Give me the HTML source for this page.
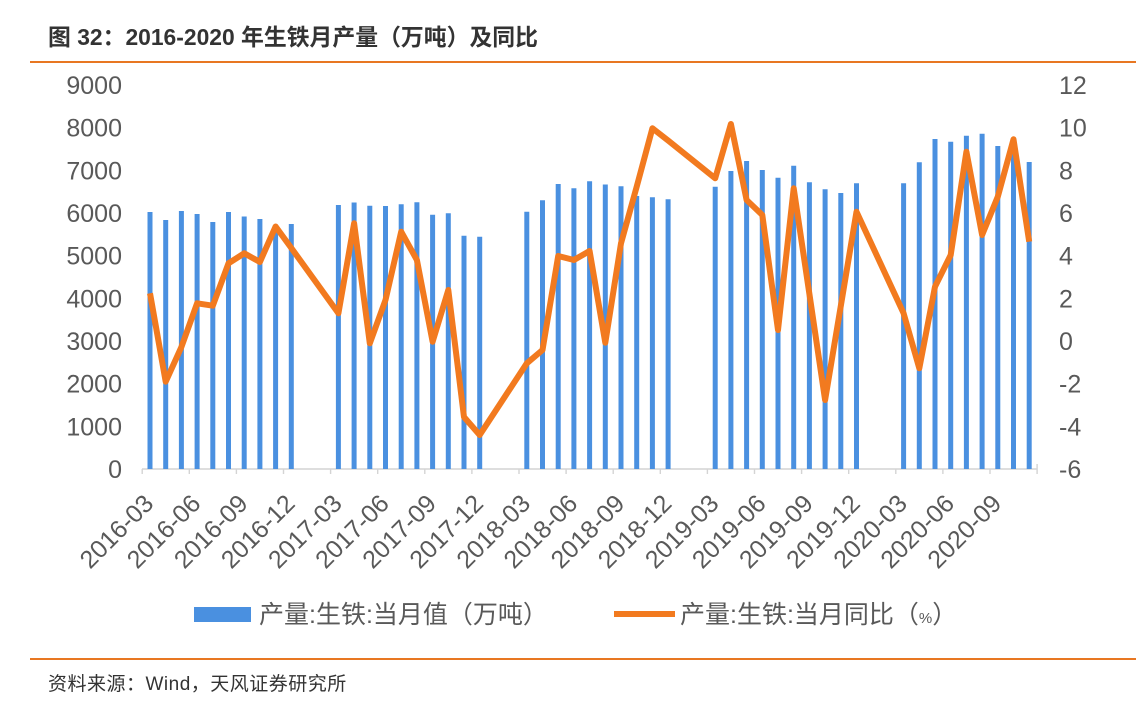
<!DOCTYPE html>
<html><head><meta charset="utf-8"><style>
html,body{margin:0;padding:0;background:#fff;}
svg{display:block;}
</style></head><body>
<svg width="1136" height="728" viewBox="0 0 1136 728" xmlns="http://www.w3.org/2000/svg" font-family="'Liberation Sans','Noto Sans CJK SC',sans-serif">
<rect width="1136" height="728" fill="#ffffff"/>
<text x="48" y="45" font-size="23" font-weight="bold" fill="#333" textLength="490" lengthAdjust="spacingAndGlyphs">图 32：2016-2020 年生铁月产量（万吨）及同比</text>
<rect x="30" y="61" width="1106" height="2" fill="#e87722"/>
<text font-size="25" fill="#595959" text-anchor="end"><tspan x="122" y="94">9000</tspan><tspan x="122" dy="42.67">8000</tspan><tspan x="122" dy="42.67">7000</tspan><tspan x="122" dy="42.67">6000</tspan><tspan x="122" dy="42.67">5000</tspan><tspan x="122" dy="42.67">4000</tspan><tspan x="122" dy="42.67">3000</tspan><tspan x="122" dy="42.67">2000</tspan><tspan x="122" dy="42.67">1000</tspan><tspan x="122" dy="42.67">0</tspan></text>
<text font-size="25" fill="#595959"><tspan x="1059" y="94">12</tspan><tspan x="1059" dy="42.67">10</tspan><tspan x="1059" dy="42.67">8</tspan><tspan x="1059" dy="42.67">6</tspan><tspan x="1059" dy="42.67">4</tspan><tspan x="1059" dy="42.67">2</tspan><tspan x="1059" dy="42.67">0</tspan><tspan x="1059" dy="42.67">-2</tspan><tspan x="1059" dy="42.67">-4</tspan><tspan x="1059" dy="42.67">-6</tspan></text>
<path d="M142 469H1037M142.2 469v5M189.3 469v5M236.4 469v5M283.5 469v5M330.6 469v5M377.7 469v5M424.8 469v5M471.9 469v5M519 469v5M566.1 469v5M613.2 469v5M660.3 469v5M707.4 469v5M754.5 469v5M801.6 469v5M848.7 469v5M895.8 469v5M942.9 469v5M990 469v5M1037.1 464v10" stroke="#d4d4d4" stroke-width="1.4" fill="none"/>
<path fill="#4a90e0" d="M147.5 469V212h5V469zM163.2 469V220h5V469zM178.9 469V211h5V469zM194.6 469V214h5V469zM210.3 469V222h5V469zM226 469V212h5V469zM241.7 469V216.5h5V469zM257.4 469V219h5V469zM273.1 469V226h5V469zM288.8 469V224h5V469z
M335.9 469V205h5V469zM351.6 469V202.5h5V469zM367.3 469V205.7h5V469zM383 469V206h5V469zM398.7 469V204.3h5V469zM414.4 469V202.3h5V469zM430.1 469V214.7h5V469zM445.8 469V213.3h5V469zM461.5 469V235.7h5V469zM477.2 469V236.7h5V469z
M524.3 469V211.7h5V469zM540 469V200.3h5V469zM555.7 469V184h5V469zM571.4 469V188.3h5V469zM587.1 469V181.3h5V469zM602.8 469V184.5h5V469zM618.5 469V186.3h5V469zM634.2 469V196h5V469zM649.9 469V197.3h5V469zM665.6 469V199.3h5V469z
M712.7 469V186.8h5V469zM728.4 469V171h5V469zM744.1 469V161h5V469zM759.8 469V170h5V469zM775.5 469V177.7h5V469zM791.2 469V165.7h5V469zM806.9 469V182.3h5V469zM822.6 469V189.3h5V469zM838.3 469V193h5V469zM854 469V183.3h5V469z
M901.1 469V183.3h5V469zM916.8 469V162.3h5V469zM932.5 469V139h5V469zM948.2 469V141.7h5V469zM963.9 469V135.7h5V469zM979.6 469V133.7h5V469zM995.3 469V146h5V469zM1011 469V148h5V469zM1026.7 469V162h5V469z"/>
<polyline fill="none" stroke="#f27a1f" stroke-width="6" stroke-linejoin="round" points="150,293.3 165.7,381.7 181.4,347 197.1,303.3 212.8,305.7 228.5,263.3 244.2,253.3 259.9,262 275.6,226.5 291.3,248 338.4,313.3 354.1,223.3 369.8,343.3 385.5,300 401.2,231.7 416.9,260 432.6,341.7 448.3,290 464,417 479.7,435 526.8,363.3 542.5,350 558.2,256 573.9,260 589.6,251 605.3,342.7 621,243.3 636.7,186.7 652.4,128.3 668.1,140.5 715.2,178.3 730.9,124 746.6,200 762.3,215 778,330 793.7,188.3 809.4,294 825.1,400 840.8,306 856.5,211.7 903.6,313.3 919.3,368.3 935,286.7 950.7,255 966.4,151.7 982.1,235 997.8,196.7 1013.5,139.3 1029.2,241.7"/>
<defs><path id="lbl" d="M0 0H1"/></defs>
<g font-size="25" fill="#595959" text-anchor="end">
<text transform="translate(155,505) rotate(-45)">2016-03</text><text transform="translate(202.1,505) rotate(-45)">2016-06</text><text transform="translate(249.2,505) rotate(-45)">2016-09</text><text transform="translate(296.3,505) rotate(-45)">2016-12</text>
<text transform="translate(343.4,505) rotate(-45)">2017-03</text><text transform="translate(390.5,505) rotate(-45)">2017-06</text><text transform="translate(437.6,505) rotate(-45)">2017-09</text><text transform="translate(484.7,505) rotate(-45)">2017-12</text>
<text transform="translate(531.8,505) rotate(-45)">2018-03</text><text transform="translate(578.9,505) rotate(-45)">2018-06</text><text transform="translate(626,505) rotate(-45)">2018-09</text><text transform="translate(673.1,505) rotate(-45)">2018-12</text>
<text transform="translate(720.2,505) rotate(-45)">2019-03</text><text transform="translate(767.3,505) rotate(-45)">2019-06</text><text transform="translate(814.4,505) rotate(-45)">2019-09</text><text transform="translate(861.5,505) rotate(-45)">2019-12</text>
<text transform="translate(908.6,505) rotate(-45)">2020-03</text><text transform="translate(955.7,505) rotate(-45)">2020-06</text><text transform="translate(1002.8,505) rotate(-45)">2020-09</text>
</g>
<rect x="194" y="607" width="57" height="15" fill="#4a90e0"/>
<text x="259" y="623" font-size="25" fill="#595959">产量:生铁:当月值（万吨）</text>
<path d="M614 614H675" stroke="#f27a1f" stroke-width="6"/>
<text x="680" y="623" font-size="25" fill="#595959">产量:生铁:当月同比（<tspan font-size="15">%</tspan>）</text>
<rect x="30" y="658" width="1106" height="2" fill="#e87722"/>
<text x="48" y="690" font-size="19" fill="#333" letter-spacing="0.5">资料来源：Wind，天风证券研究所</text>
</svg>
</body></html>
